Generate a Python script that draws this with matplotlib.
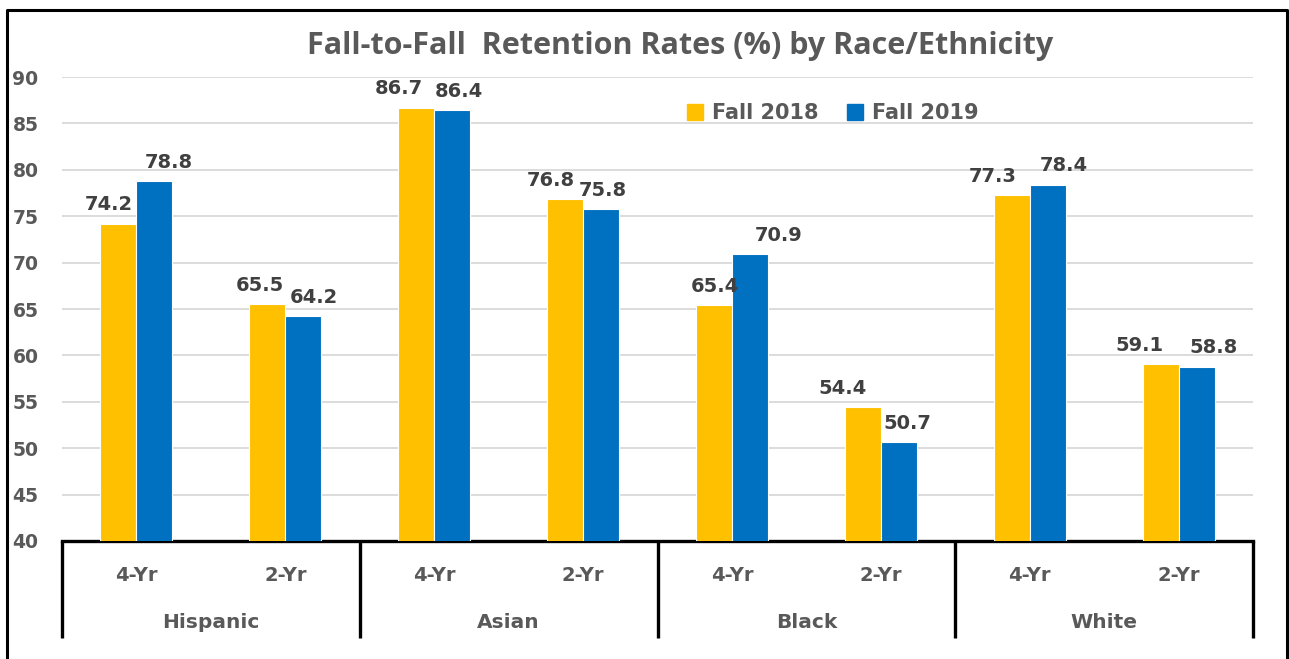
import matplotlib.pyplot as plt
import numpy as np
from matplotlib.lines import Line2D
from matplotlib.patches import Patch

# données
groups = ["Hispanic", "Asian", "Black", "White"]
levels = ["4-Yr", "2-Yr"]
fall_2018 = [74.2, 65.5, 86.7, 76.8, 65.4, 54.4, 77.3, 59.1]
fall_2019 = [78.8, 64.2, 86.4, 75.8, 70.9, 50.7, 78.4, 58.8]

# décalages horizontaux des étiquettes (px), placées à la main dans l'original
shift_2018 = [-10, -7, -17, -14, 1, -20, -19, -21]
shift_2019 = [14, 11, 7, 2, 29, 9, 16, 17]

plt.rcParams['font.family'] = ['DejaVu Sans']
plt.rcParams['font.weight'] = 'bold'
gray = '#595959'
yellow = '#FFC000'
blue = '#0070C0'

fig = plt.figure(figsize=(12.89, 6.59), dpi=100)
ax = fig.add_axes([62/1289, 1 - 541/659, (1253 - 62)/1289, (541 - 77)/659])

x = np.arange(len(fall_2018))
w = 0.242
b1 = ax.bar(x - w/2, fall_2018, w, color=yellow, edgecolor='white', linewidth=0.8, zorder=3)
b2 = ax.bar(x + w/2, fall_2019, w, color=blue, edgecolor='white', linewidth=0.8, zorder=3)

# étiquettes de valeurs au-dessus des barres
for bars, vals, shifts in ((b1, fall_2018, shift_2018), (b2, fall_2019, shift_2019)):
    for rect, v, s in zip(bars, vals, shifts):
        ax.annotate(f"{v:.1f}", (rect.get_x() + rect.get_width()/2, v),
                    xytext=(s * 0.72, 9.5), textcoords='offset points', ha='center', va='baseline',
                    fontsize=14, fontweight='bold', color='#404040', clip_on=False)

ax.set_ylim(40, 90)
ax.set_xlim(-0.5, len(x) - 0.5)
ax.set_yticks(range(40, 91, 5))
ax.yaxis.grid(True, color='#D9D9D9', linewidth=1.3, zorder=0)
ax.tick_params(axis='y', length=0, pad=17, labelsize=13.5, labelcolor=gray)

# axe à deux niveaux
ax.set_xticks(x)
ax.set_xticklabels(levels * len(groups), fontsize=14, fontweight='bold', color=gray)
ax.tick_params(axis='x', length=0, pad=18)
for sp in ('top', 'right', 'left'):
    ax.spines[sp].set_visible(False)
ax.spines['bottom'].set_linewidth(2.4)
ax.spines['bottom'].set_color('black')

trans = ax.get_xaxis_transform()
for g, name in enumerate(groups):
    ax.text(2*g + 0.5, -0.1767, name, transform=trans, ha='center', va='center',
            fontsize=14.5, fontweight='bold', color=gray)
for xd in np.arange(-0.5, len(x), 2):
    ax.plot([xd, xd], [0, -0.209], transform=trans, color='black', linewidth=2.4,
            clip_on=False, solid_capstyle='butt')

fig.text(680/1289, 1 - 54/659, "Fall-to-Fall  Retention Rates (%) by Race/Ethnicity",
         ha='center', va='baseline', fontsize=22, fontweight='bold', color=gray,
         family=['Open Sans', 'DejaVu Sans'])

handles = [Patch(color=yellow), Patch(color=blue)]
leg = fig.legend(handles, ["Fall 2018", "Fall 2019"], loc='center left',
                 bbox_to_anchor=(668/1289, 1 - 113/659), ncol=2, frameon=False,
                 handlelength=0.77, handleheight=0.77, handletextpad=0.43, columnspacing=1.4,
                 prop={'size': 15, 'weight': 'bold'})
for t in leg.get_texts():
    t.set_color(gray)

# cadre extérieur
fig.add_artist(Line2D([7/1289, 7/1289, 1287/1289, 1287/1289], [0, 1 - 10/659, 1 - 10/659, 0],
                      color='black', linewidth=2.2, transform=fig.transFigure))

fig.savefig("out.png", dpi=100)
